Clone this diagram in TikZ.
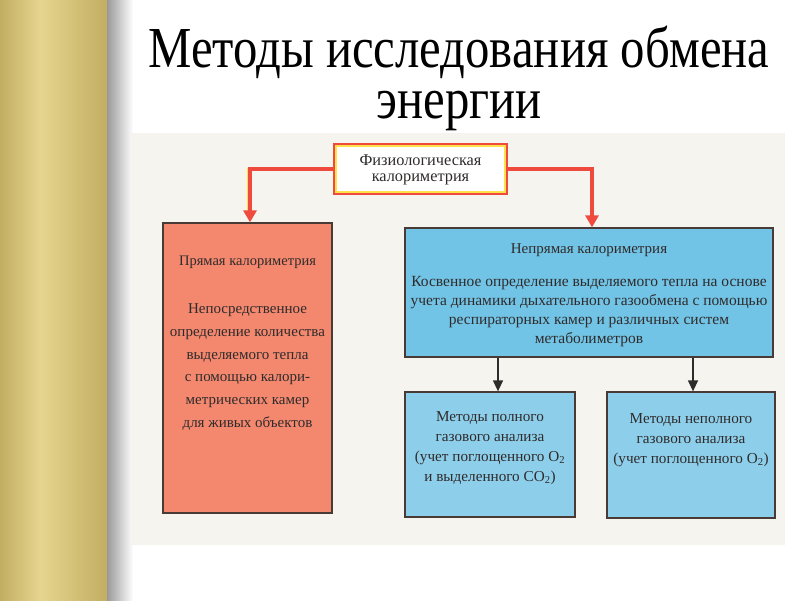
\documentclass[tikz,border=0pt]{standalone}
\usepackage{fontspec}
\setmainfont{Liberation Serif}
\usetikzlibrary{arrows.meta}
\definecolor{goldL}{HTML}{E6D58E}
\definecolor{goldD}{HTML}{C2AE63}
\definecolor{scanbg}{HTML}{F6F4EF}
\definecolor{salmon}{HTML}{F3886F}
\definecolor{skyA}{HTML}{72C4E6}
\definecolor{skyB}{HTML}{8DCFEA}
\definecolor{feedred}{HTML}{EE4B3E}
\definecolor{feedyel}{HTML}{FFE14A}
\definecolor{inkgrey}{HTML}{2F2B2B}
\definecolor{boxedge}{HTML}{4A3A36}
\begin{document}
\begin{tikzpicture}[x=1pt,y=-1pt,
  every node/.style={inner sep=0pt, text=inkgrey},
  box/.style={draw=boxedge, line width=1.3pt},
  boxtext/.style={align=center, font=\fontsize{15}{19}\selectfont},
  titletext/.style={anchor=base, align=center, text=black, font=\fontsize{58}{51}\selectfont},
  feedline/.style={feedred, line width=3.2pt},
  feedglow/.style={feedyel, line width=2pt, xshift=-1.4pt, yshift=1.4pt},
  feedtip/.style={-{Triangle[width=13pt,length=12pt]}},
  darkline/.style={draw=inkgrey, line width=1.3pt, -{Triangle[width=10pt,length=11pt]}}]
% page and frame
\useasboundingbox (0,0) rectangle (800,600);
\fill[white] (0,0) rectangle (800,600);
\shade[left color=goldD, right color=goldL] (0,0) rectangle (40,600);
\shade[left color=goldL, right color=goldD] (40,0) rectangle (107,600);
\shade[left color=black!40, right color=white] (107,0) rectangle (133,600);
\fill[scanbg] (131,133) rectangle (785,545);
% title
\node[titletext] (title) at (459,118.5)
  {\scalebox{0.84}[1]{Методы исследования обмена}\\\scalebox{0.84}[1]{энергии}};
% boxes
\node[draw=feedred, line width=4pt, fill=white, minimum width=171pt, minimum height=48pt] (phys) at (420.5,169) {};
\draw[feedyel, line width=1.6pt] ([shift={(3.2,3.2)}]phys.north west) rectangle ([shift={(-3.2,-3.2)}]phys.south east);
\node[align=center, font=\fontsize{16.3}{16}\selectfont] (physText) at (420.5,170) {Физиологическая\\калориметрия};
\node[box, fill=salmon, minimum width=169pt, minimum height=290pt] (direct) at (247.5,368) {};
\node[boxtext, font=\fontsize{14.5}{19}\selectfont] (directHead) at (247.5,262) {Прямая калориметрия};
\node[boxtext, font=\fontsize{15}{22.8}\selectfont] (directText) at (247.5,367)
  {Непосредственное\\определение количества\\выделяемого тепла\\с помощью калори-\\метрических камер\\для живых объектов};
\node[box, fill=skyA, minimum width=368pt, minimum height=129pt] (indirect) at (589,292.5) {};
\node[boxtext] (indirectHead) at (589,250) {Непрямая калориметрия};
\node[boxtext, font=\fontsize{15.5}{19}\selectfont] (indirectText) at (589,311.5)
  {Косвенное определение выделяемого тепла на основе\\учета динамики дыхательного газообмена с помощью\\респираторных камер и различных систем\\метаболиметров};
\node[box, fill=skyB, minimum width=170pt, minimum height=125pt] (full) at (490,454.5) {};
\node[boxtext, font=\fontsize{15.2}{20}\selectfont] (fullText) at (490,448)
  {Методы полного\\газового анализа\\(учет поглощенного O\textsubscript{2}\\и выделенного CO\textsubscript{2})};
\node[box, fill=skyB, minimum width=168pt, minimum height=126pt] (part) at (691,455) {};
\node[boxtext, font=\fontsize{15.2}{20}\selectfont] (partText) at (691,440)
  {Методы неполного\\газового анализа\\(учет поглощенного O\textsubscript{2})};
% connectors
\draw[feedglow] (phys.west) -| ([yshift=8pt]direct.north);
\draw[feedline, feedtip] (phys.west) -| ([xshift=2.5pt]direct.north);
\draw[feedglow] (phys.east) -| ([xshift=3pt, yshift=8pt]indirect.north);
\draw[feedline, feedtip] (phys.east) -| ([xshift=3pt]indirect.north);
\draw[darkline] ([xshift=8pt]full.north |- indirect.south) -- ([xshift=8pt]full.north);
\draw[darkline] ([xshift=2pt]part.north |- indirect.south) -- ([xshift=2pt]part.north);
\end{tikzpicture}
\end{document}
